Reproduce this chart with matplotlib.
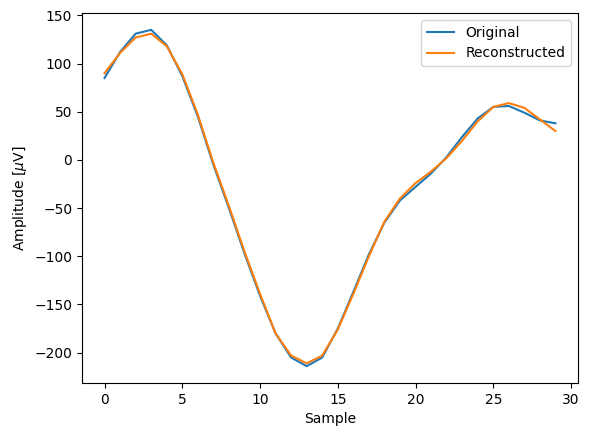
import matplotlib
matplotlib.use("Agg")
import matplotlib.pyplot as plt
import numpy as np

sample = np.arange(30)
original = [85, 112, 131, 135, 119, 87, 45, -5, -50, -97,
            -141, -180, -205, -214, -205, -175, -137, -98, -65, -42,
            -28, -14, 3, 24, 43, 55, 56, 49, 41, 38]
reconstructed = [90, 111, 127, 131, 118, 89, 47, -3, -48, -95,
                 -139, -180, -203, -211, -203, -176, -139, -100, -64, -40,
                 -24, -12, 2, 20, 40, 55, 59, 54, 42, 30]

fig = plt.figure(figsize=(5.89, 4.36), dpi=100)
# axes box placed to match the reference (6.4x4.8 default, tight crop)
ax = fig.add_axes([82 / 589, 53 / 436, 496 / 589, 370 / 436])
ax.plot(sample, original, label="Original")
ax.plot(sample, reconstructed, label="Reconstructed")
ax.set_xlabel("Sample")
ax.set_ylabel(r"Amplitude [$\mu$V]")
ax.legend()
fig.savefig("out.png")
